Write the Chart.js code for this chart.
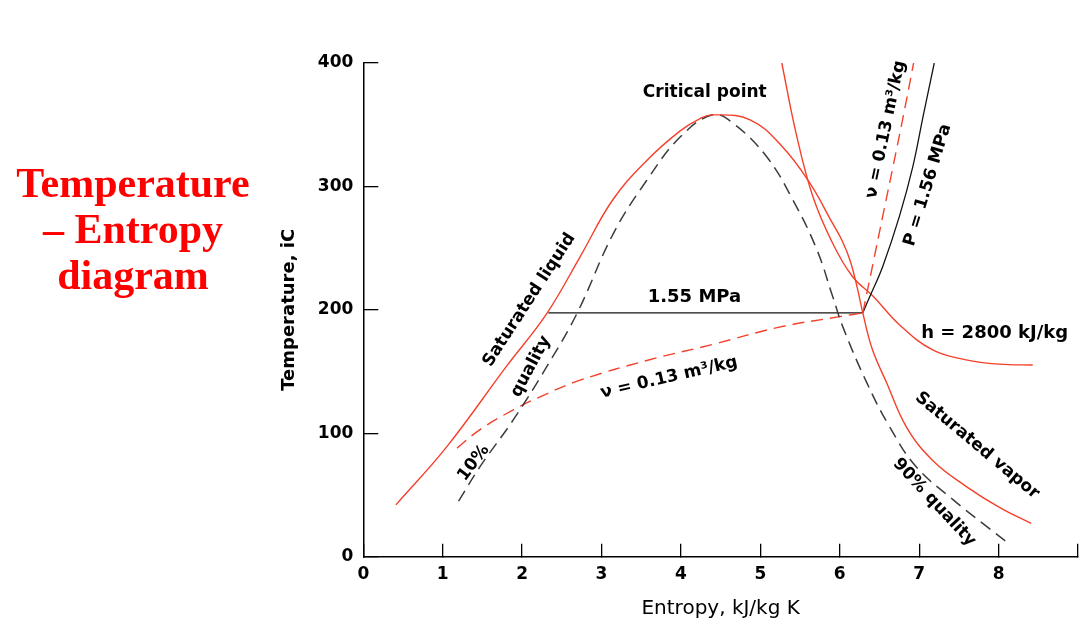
<!DOCTYPE html>
<html>
<head>
<meta charset="utf-8">
<script src="https://cdn.jsdelivr.net/npm/chart.js@4.4.1/dist/chart.umd.min.js"></script>
<style>
    html, body { margin: 0; padding: 0; background: #fff; }
    body { width: 1081px; height: 624px; position: relative; overflow: hidden; }
    .grafico { position: absolute; left: 0; top: 0; }
    .titulo {
        position: absolute; left: 0; top: 160px; width: 266px; z-index: 2;
        text-align: center; color: #ff0000;
        font-family: "Liberation Serif", "DejaVu Serif", serif;
        font-weight: bold; font-size: 42px; line-height: 46px;
    }
</style>
</head>
<body>
<div class="grafico"><canvas class="Mychart" width="1081" height="624"></canvas></div>
<div class="titulo">Temperature<br>– Entropy<br>diagram</div>
<script>

// entropia (kJ/kg K) e temperatura (C)

// saturated liquid / saturated vapor
const satS = [0.41, 1.05, 1.80, 2.31, 2.73, 3.14, 3.57, 3.99, 4.24, 4.40, 4.87, 5.28, 5.62, 5.91, 6.03, 6.13, 6.22, 6.29, 6.41, 6.59, 6.84, 7.17, 7.59, 8.01, 8.41]
const satT = [42, 89, 154, 197, 243, 289, 321, 345, 355, 358, 354, 332, 303, 270, 256, 240, 218, 197.5, 168, 141, 105, 78, 57, 40, 27]

// 10% / 90% quality
const qualS = [1.20, 1.47, 1.89, 2.31, 2.69, 3.15, 3.57, 3.99, 4.40, 4.66, 5.08, 5.41, 5.71, 5.91, 6.04, 6.34, 6.63, 6.96, 7.43, 7.80, 8.10]
const qualT = [45, 73, 111, 154, 197, 262, 305, 340, 358, 351, 324, 289, 249, 211, 186, 141, 105, 73, 46, 27, 12]

// v = 0.13 m3/kg
const vBaixoS = [1.18, 1.47, 1.89, 2.31, 2.73, 3.57, 4.40, 5.24, 6.00, 6.29]
const vBaixoT = [88, 103, 119, 132, 143, 159, 172, 186, 194.5, 197.5]
const vAltoS = [6.29, 6.42, 6.54, 6.67, 6.80, 6.93]
const vAltoT = [197.5, 238, 275.5, 316, 357, 400]

// 1.55 MPa / 1.56 MPa
const pHorS = [2.33, 6.29]
const pHorT = [197.5, 197.5]
const pAltoS = [6.29, 6.38, 6.54, 6.75, 6.92, 7.05, 7.19]
const pAltoT = [197.5, 211, 235, 275.5, 316, 357, 400]

// h = 2800 kJ/kg
const hS = [5.27, 5.45, 5.66, 5.91, 6.16, 6.42, 6.75, 7.17, 7.59, 8.01, 8.43]
const hT = [400, 343, 292, 254, 227, 211, 188, 167.5, 159.5, 156, 155.3]

const xTicks = [0, 1, 2, 3, 4, 5, 6, 7, 8]
const yTicks = [0, 100, 200, 300, 400]

// textos dentro do grafico (posicao em s, T)
const notas = [
    { txt: 'Critical point', s: 4.30, t: 376, ang: 0, size: 17 },
    { txt: '1.55 MPa', s: 4.17, t: 210.5, ang: 0, size: 18 },
    { txt: 'Saturated liquid', s: 2.09, t: 208, ang: -57, size: 17 },
    { txt: 'quality', s: 2.11, t: 154, ang: -62, size: 17 },
    { txt: '10%', s: 1.39, t: 76, ang: -53, size: 17 },
    { txt: 'ν = 0.13 m³/kg', s: 3.85, t: 145, ang: -13, size: 17 },
    { txt: 'h = 2800 kJ/kg', s: 7.95, t: 181, ang: 0, size: 18 },
    { txt: 'Saturated vapor', s: 7.73, t: 90, ang: 40, size: 17 },
    { txt: '90% quality', s: 7.19, t: 44, ang: 47, size: 17 },
    { txt: 'ν = 0.13 m³/kg', s: 6.58, t: 346, ang: -78, size: 17 },
    { txt: 'P = 1.56 MPa', s: 7.11, t: 301, ang: -73, size: 17 }
]

function pontos(xs, ys) {
    return Array.from({
        length: xs.length
    }, (item, i) => {
        return { x: xs[i], y: ys[i] }
    });
}

const vermelho = 'rgb(245, 64, 44)'
const cinza = 'rgb(60, 60, 60)'
const preto = 'rgb(20, 20, 20)'
const fonte = '"DejaVu Sans", "Liberation Sans", sans-serif'

const data = {
    datasets: [
        {
            label: 'Saturated liquid / vapor',
            data: pontos(satS, satT),
            borderColor: vermelho,
            borderWidth: 1.4,
            tension: 0.4,
        },
        {
            label: 'Quality 10% / 90%',
            data: pontos(qualS, qualT),
            borderColor: cinza,
            borderWidth: 1.5,
            borderDash: [12, 7],
            tension: 0.4,
        },
        {
            label: 'v = 0.13 (liquid-vapor)',
            data: pontos(vBaixoS, vBaixoT),
            borderColor: vermelho,
            borderWidth: 1.4,
            borderDash: [12, 7],
            tension: 0.4,
        },
        {
            label: 'v = 0.13 (vapor)',
            data: pontos(vAltoS, vAltoT),
            borderColor: vermelho,
            borderWidth: 1.4,
            borderDash: [12, 7],
            tension: 0.4,
        },
        {
            label: '1.55 MPa',
            data: pontos(pHorS, pHorT),
            borderColor: preto,
            borderWidth: 1.3,
        },
        {
            label: 'P = 1.56 MPa',
            data: pontos(pAltoS, pAltoT),
            borderColor: preto,
            borderWidth: 1.3,
            tension: 0.4,
        },
        {
            label: 'h = 2800 kJ/kg',
            data: pontos(hS, hT),
            borderColor: vermelho,
            borderWidth: 1.4,
            tension: 0.4,
        }
    ]
}

const notasPlugin = {
    id: 'notas',
    afterDatasetsDraw(chart) {
        const ctx = chart.ctx
        const sx = chart.scales.x
        const sy = chart.scales.y
        ctx.save()
        ctx.fillStyle = '#000'
        ctx.textAlign = 'center'
        ctx.textBaseline = 'middle'
        notas.forEach(n => {
            ctx.save()
            ctx.translate(sx.getPixelForValue(n.s), sy.getPixelForValue(n.t))
            ctx.rotate(n.ang * Math.PI / 180)
            ctx.font = 'bold ' + n.size + 'px ' + fonte
            ctx.fillText(n.txt, 0, 0)
            ctx.restore()
        })
        ctx.restore()
    }
}

const config = {
    type: 'line',
    data: data,
    options: {
        responsive: false,
        animation: false,
        events: [],
        layout: { padding: { left: 270, top: 63, right: 3, bottom: 0 } },
        elements: { point: { radius: 0 }, line: { fill: false } },
        plugins: { legend: { display: false }, tooltip: { enabled: false } },
        scales: {
            x: {
                type: 'linear',
                min: 0,
                max: 9,
                afterBuildTicks: (scale) => {
                    scale.ticks = xTicks.concat([9]).map(v => ({ value: v }))
                },
                afterFit: (scale) => {
                    scale.height = 67.3
                    scale.paddingLeft = 0
                    scale.paddingRight = 0
                },
                ticks: {
                    callback: (v) => xTicks.includes(v) ? String(v) : '',
                    color: '#000',
                    padding: 21,
                    maxRotation: 0,
                    autoSkip: false,
                    font: { family: fonte, size: 17, weight: 'bold' }
                },
                grid: { drawOnChartArea: false, drawTicks: true, tickLength: -13, color: '#000', lineWidth: 1.3 },
                border: { display: true, color: '#000', width: 1.5 },
                title: {
                    display: true,
                    text: 'Entropy, kJ/kg K',
                    color: '#000',
                    padding: { top: 0, bottom: 3 },
                    font: { family: fonte, size: 20 }
                }
            },
            y: {
                type: 'linear',
                min: 0,
                max: 400,
                afterBuildTicks: (scale) => {
                    scale.ticks = yTicks.map(v => ({ value: v }))
                },
                afterFit: (scale) => { scale.width = 93.3 },
                ticks: {
                    color: '#000',
                    padding: 25,
                    font: { family: fonte, size: 17, weight: 'bold' }
                },
                grid: { drawOnChartArea: false, drawTicks: true, tickLength: -15, color: '#000', lineWidth: 1.3 },
                border: { display: true, color: '#000', width: 1.5 },
                title: {
                    display: true,
                    text: 'Temperature, iC',
                    color: '#000',
                    padding: { top: 9, bottom: 0 },
                    font: { family: fonte, size: 18, weight: 'bold' }
                }
            }
        }
    },
    plugins: [notasPlugin]
}

let graf = document.querySelector(".Mychart").getContext("2d")
let myChart = new Chart(graf, config)

</script>
</body>
</html>
